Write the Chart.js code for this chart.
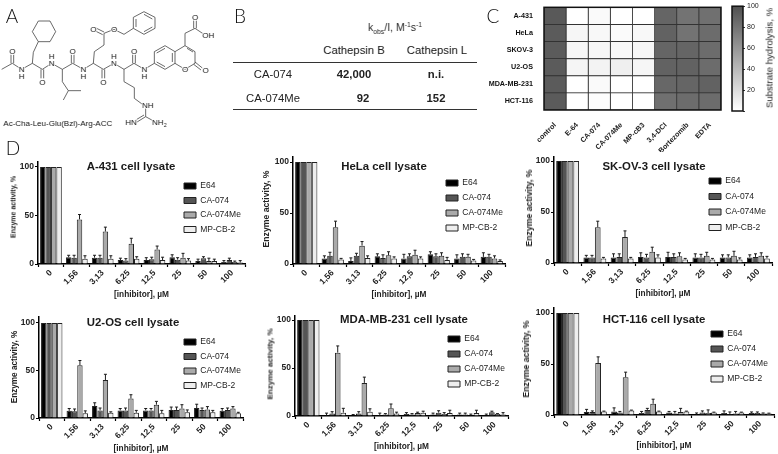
<!DOCTYPE html>
<html>
<head>
<meta charset="utf-8">
<script src="https://cdn.jsdelivr.net/npm/chart.js@4"></script>
<style>
  body { margin: 0; background: #fff; }
  #page { position: relative; width: 778px; height: 454px; overflow: hidden; font-family: "Liberation Sans", sans-serif; color: #222; background: #fff; filter: grayscale(1); }
  #page canvas { position: absolute; }
  .txt { position: absolute; white-space: nowrap; transform: translate(-50%, -50%); }
  .letter { font-family: Lato, sans-serif; font-size: 19px; font-weight: 300; color: #111; }
  .rule { position: absolute; background: #333; height: 1px; }
  sub, sup { font-size: 65%; line-height: 0; }
</style>
</head>
<body>
<div id="page">
  <svg style="position:absolute;left:0;top:0" width="240" height="150" viewBox="0 0 720 450">
    <g fill="none" stroke="#333" stroke-width="2.2">
      <polyline points="5,208 37,190 65,208 97,190 127,208 155,190 187,208 218,190 250,208 280,190 310,208 342,190 372,208 402,190 433,208 463,190"/>
      <path d="M33,190V163M41,190V163M123,208V235M131,208V235M214,190V163M222,190V163M306,208V235M314,208V235M398,190V163M406,190V163"/>
      <polyline points="97,190 100,157 115,125"/>
      <polygon points="115,63 150,63 167,95 150,125 115,125 97,95"/>
      <polyline points="187,208 187,245 205,272 190,300"/>
      <line x1="205" y1="272" x2="243" y2="272"/>
      <polyline points="280,190 283,155 312,135 312,100 342,88 372,103 400,85"/>
      <path d="M312,96L288,84M308,104L284,92"/>
      <polygon points="432,35 465,52 465,85 432,103 400,85 400,52"/>
      <path d="M432,43L457,57M457,81L432,95M408,81V57"/>
      <polyline points="372,208 372,245 403,263 403,295 430,315"/>
      <polyline points="437,325 437,350 470,368"/>
      <path d="M437,350L408,368M432,345L404,362"/>
      <polygon points="463,155 495,137 525,155 525,190 495,208 463,190"/>
      <path d="M470,159L495,145M517,159V186M495,200L470,186"/>
      <polyline points="525,155 555,137 585,155 585,190 555,208 525,190"/>
      <path d="M561,145L579,156"/>
      <path d="M585,186L607,204M581,193L603,210"/>
      <polyline points="555,137 555,100 585,85 612,103"/>
      <path d="M581,85V60M589,85V60"/>
    </g>
    <g font-family="Liberation Sans" font-size="24" fill="#222" text-anchor="middle" stroke="#fff" stroke-width="5" paint-order="stroke">
      <text x="37" y="163">O</text><text x="65" y="216">N</text><text x="65" y="236">H</text>
      <text x="127" y="254">O</text><text x="155" y="198">N</text><text x="155" y="176">H</text>
      <text x="218" y="163">O</text><text x="250" y="216">N</text><text x="250" y="236">H</text>
      <text x="280" y="97">O</text><text x="342" y="97">O</text><text x="310" y="254">O</text>
      <text x="342" y="198">N</text><text x="342" y="176">H</text><text x="402" y="163">O</text>
      <text x="433" y="216">N</text><text x="433" y="236">H</text><text x="555" y="216">O</text>
      <text x="617" y="218">O</text><text x="585" y="59">O</text><text x="625" y="113">OH</text>
      <text x="443" y="323">NH</text><text x="393" y="376">HN</text><text x="478" y="376">NH<tspan font-size="16" dy="5">2</tspan></text>
    </g>
    <text x="10" y="378" font-family="Liberation Sans" font-size="24" fill="#222">Ac-Cha-Leu-Glu(Bzl)-Arg-ACC</text>
  </svg>
</div>

<script>
const concentrations = ['0', '1,56', '3,13', '6,25', '12,5', '25', '50', '100'];
const inhibitors = ['E64', 'CA-074', 'CA-074Me', 'MP-CB-2'];

const a431E64 = [100, 7, 6.5, 4, 4, 7, 3, 2];
const a431Ca074 = [100, 6.5, 6.5, 3.5, 5, 4.5, 6, 4];
const a431Me = [100, 46, 33.5, 21, 15, 6.5, 3, 2];
const a431Mp = [100, 5.5, 5.5, 5.5, 4, 3.5, 3, 1.5];
const a431E64Err = [0, 2, 2.5, 2, 2.5, 2.5, 2, 1.5];
const a431Ca074Err = [0, 2.5, 2.5, 2, 2, 2, 1.5, 2];
const a431MeErr = [0, 5, 4.5, 5.5, 3.5, 4.5, 3, 1];
const a431MpErr = [0, 3, 3, 2, 3, 2, 2, 2];

const helaE64 = [100, 5.5, 3, 7.5, 5.5, 9.5, 5.5, 7];
const helaCa074 = [100, 8, 8, 6, 7.5, 7.5, 7, 7];
const helaMe = [100, 36, 18, 8.5, 9, 8, 7, 5.5];
const helaMp = [100, 4.5, 6, 5.5, 5.5, 4, 3.5, 3];
const helaE64Err = [0, 2.5, 3, 2.5, 4, 2.5, 3.5, 4];
const helaCa074Err = [0, 3.5, 2.5, 3, 2.5, 2.5, 3, 2.5];
const helaMeErr = [0, 6, 4, 3.5, 4.5, 3, 2.5, 2.5];
const helaMpErr = [0, 1, 2, 1.5, 1.5, 2.5, 1, 1];

const skov3E64 = [100, 5.5, 5.5, 6, 6, 5.5, 5.5, 5.5];
const skov3Ca074 = [100, 5.5, 6, 5.5, 6, 5.5, 5.5, 6];
const skov3Me = [100, 35, 25.5, 11, 6.5, 7, 7, 7];
const skov3Mp = [100, 4.5, 4.5, 5.5, 3.5, 3.5, 3.5, 4.5];
const skov3E64Err = [0, 2, 3.5, 4, 4.5, 3.5, 2.5, 2.5];
const skov3Ca074Err = [0, 2, 3, 3, 3, 3, 2.5, 3];
const skov3MeErr = [0, 6, 6, 4.5, 3.5, 3.5, 4.5, 3];
const skov3MpErr = [0, 1, 1, 2.5, 1, 1, 1.5, 2];

const u2osE64 = [100, 7.5, 12.5, 8, 8, 8.5, 10.5, 7.5];
const u2osCa074 = [100, 7, 8, 8, 8, 8.5, 8.5, 8.5];
const u2osMe = [100, 55.5, 40, 20.5, 14, 10, 9, 10];
const u2osMp = [100, 5, 5.5, 5.5, 5, 6, 6, 5];
const u2osE64Err = [0, 2.5, 3.5, 2, 2, 3, 4, 2.5];
const u2osCa074Err = [0, 2.5, 2.5, 2.5, 2, 3, 2, 2];
const u2osMeErr = [0, 5, 6, 4, 3.5, 4, 3, 2];
const u2osMpErr = [0, 2.5, 1, 2.5, 3, 2.5, 2, 1];

const mdaE64 = [100, 0.5, 1, 0.5, 2, 1.5, 1.5, 1];
const mdaCa074 = [100, 2.5, 2.5, 1.5, 1.5, 3.5, 1.5, 4];
const mdaMe = [100, 66, 34.5, 8, 3, 2, 0.5, 2];
const mdaMp = [100, 3.5, 4.5, 2.5, 3.5, 3, 3, 1.5];
const mdaE64Err = [0, 2.5, 0.5, 2.5, 1.5, 1.5, 1.5, 1];
const mdaCa074Err = [0, 2, 2, 1, 1, 2, 1.5, 1];
const mdaMeErr = [0, 7, 6, 4.5, 1, 1.5, 1.5, 0.5];
const mdaMpErr = [0, 4.5, 3, 1.5, 1.5, 3, 3, 2];

const hctE64 = [100, 3, 3.5, 2, 2.5, 0.5, 2, 2];
const hctCa074 = [100, 3, 2.5, 5, 1.5, 2.5, 1, 2];
const hctMe = [100, 51, 37, 11, 3, 2, 1.5, 1.5];
const hctMp = [100, 3.5, 4.5, 3.5, 3.5, 2.5, 2.5, 1.5];
const hctE64Err = [0, 2.5, 3.5, 1.5, 1, 1.5, 2, 1];
const hctCa074Err = [0, 1, 1, 1.5, 2, 1.5, 2, 1];
const hctMeErr = [0, 6, 5, 4.5, 3.5, 3, 2, 0.5];
const hctMpErr = [0, 0.3, 0.3, 0.3, 0.3, 0.3, 0.3, 0.3];

// panel C
const heatCells = ['A-431', 'HeLa', 'SKOV-3', 'U2-OS', 'MDA-MB-231', 'HCT-116'];
const heatDrugs = ['control', 'E-64', 'CA-074', 'CA-074Me', 'MP-cB3', '3,4-DCI', 'Bortezomib', 'EDTA'];
const heatA431 = [95, 0, 3, 0, 0, 88, 80, 82];
const heatHela = [94, 5, 4, 3, 4, 90, 80, 84];
const heatSkov3 = [94, 5, 5, 4, 5, 88, 88, 84];
const heatU2os = [94, 6, 7, 9, 5, 90, 90, 84];
const heatMda = [94, 0, 3, 0, 0, 87, 88, 90];
const heatHct = [94, 0, 1, 0, 0, 82, 84, 84];
const heatRows = [heatA431, heatHela, heatSkov3, heatU2os, heatMda, heatHct];
const scaleRange = [0, 100];

Chart.defaults.font.family = '"Liberation Sans", sans-serif';

const page = document.getElementById('page');
const barFill = ['#000000', '#555555', '#aaaaaa', '#eeeeee'];
const lineCol = '#1a1a1a';

function text(html, x, y, css) {
  const d = document.createElement('div');
  d.className = 'txt';
  d.innerHTML = html;
  d.style.left = x + 'px';
  d.style.top = y + 'px';
  if (css) d.style.cssText += css;
  page.appendChild(d);
  return d;
}
function addCanvas(left, top, width, height) {
  const c = document.createElement('canvas');
  c.width = width;
  c.height = height;
  c.style.left = left + 'px';
  c.style.top = top + 'px';
  page.appendChild(c);
  return c;
}

// error bars are not part of Chart.js, drawn on top of each bar from the bar's own element
const errorBars = {
  id: 'errorBars',
  afterDatasetsDraw(chart) {
    const ctx = chart.ctx;
    const y = chart.scales.y;
    ctx.save();
    ctx.strokeStyle = lineCol;
    ctx.lineWidth = 1;
    chart.data.datasets.forEach((ds, i) => {
      chart.getDatasetMeta(i).data.forEach((bar, k) => {
        if (!ds.errors[k]) return;
        const top = y.getPixelForValue(ds.data[k] + ds.errors[k]);
        ctx.beginPath();
        ctx.moveTo(bar.x, bar.y);
        ctx.lineTo(bar.x, top);
        ctx.moveTo(bar.x - 1.5, top);
        ctx.lineTo(bar.x + 1.5, top);
        ctx.stroke();
      });
    });
    ctx.restore();
  }
};

// the legend sits inside the plot at a given spot
const moveLegend = {
  id: 'moveLegend',
  afterLayout(chart, args, opts) {
    chart.legend.left = opts.x;
    chart.legend.top = opts.y;
  }
};

const frame = {
  id: 'frame',
  afterDatasetsDraw(chart) {
    const a = chart.chartArea;
    chart.ctx.save();
    chart.ctx.strokeStyle = '#111';
    chart.ctx.lineWidth = 1.5;
    chart.ctx.strokeRect(a.left, a.top, a.right - a.left, a.bottom - a.top);
    chart.ctx.restore();
  }
};

const panels = [
  { title: 'A-431 cell lysate', rows: [a431E64, a431Ca074, a431Me, a431Mp], errs: [a431E64Err, a431Ca074Err, a431MeErr, a431MpErr],
    left: 38, right: 245, top: 160, y100: 165, y0: 264, titleX: 131, titleY: 166, legX: 184, legY: 186, step: 14.5, yX: 13, yY: 207, yFont: 7 },
  { title: 'HeLa cell lysate', rows: [helaE64, helaCa074, helaMe, helaMp], errs: [helaE64Err, helaCa074Err, helaMeErr, helaMpErr],
    left: 293, right: 505, top: 155, y100: 160, y0: 264, titleX: 384, titleY: 166, legX: 446, legY: 183, step: 15, yX: 266, yY: 209, yFont: 8.7 },
  { title: 'SK-OV-3 cell lysate', rows: [skov3E64, skov3Ca074, skov3Me, skov3Mp], errs: [skov3E64Err, skov3Ca074Err, skov3MeErr, skov3MpErr],
    left: 554, right: 772, top: 155, y100: 159, y0: 263, titleX: 654, titleY: 166, legX: 709, legY: 181, step: 15.5, yX: 529, yY: 208, yFont: 8.7 },
  { title: 'U2-OS cell lysate', rows: [u2osE64, u2osCa074, u2osMe, u2osMp], errs: [u2osE64Err, u2osCa074Err, u2osMeErr, u2osMpErr],
    left: 39, right: 243, top: 315, y100: 321, y0: 418, titleX: 133, titleY: 322, legX: 184, legY: 342, step: 14.5, yX: 14, yY: 367, yFont: 8.2 },
  { title: 'MDA-MB-231 cell lysate', rows: [mdaE64, mdaCa074, mdaMe, mdaMp], errs: [mdaE64Err, mdaCa074Err, mdaMeErr, mdaMpErr],
    left: 295, right: 508, top: 314, y100: 318, y0: 416, titleX: 404, titleY: 319, legX: 448, legY: 339, step: 15, yX: 270, yY: 364, yFont: 8 },
  { title: 'HCT-116 cell lysate', rows: [hctE64, hctCa074, hctMe, hctMp], errs: [hctE64Err, hctCa074Err, hctMeErr, hctMpErr],
    left: 554, right: 774, top: 306, y100: 311, y0: 415, titleX: 654, titleY: 319, legX: 711, legY: 334, step: 15, yX: 526, yY: 359, yFont: 8.7 }
];

panels.forEach(p => {
  const yWidth = 30, xHeight = 36, padTop = 4, padRight = 4;
  const canvas = addCanvas(p.left - yWidth, p.top - padTop, p.right - p.left + yWidth + padRight, p.y0 - p.top + padTop + xHeight);
  const legFont = 8.5;
  const legPad = p.step - legFont;
  new Chart(canvas, {
    type: 'bar',
    data: {
      labels: concentrations,
      datasets: p.rows.map((r, i) => ({
        label: inhibitors[i],
        data: r,
        errors: p.errs[i],
        backgroundColor: barFill[i],
        borderColor: '#222',
        borderWidth: 1
      }))
    },
    options: {
      responsive: false,
      animation: false,
      layout: { padding: { top: padTop, right: padRight } },
      datasets: { bar: { barPercentage: 1, categoryPercentage: 0.84 } },
      scales: {
        x: {
          afterFit: s => { s.height = xHeight; },
          grid: { drawOnChartArea: false, tickLength: 3, tickColor: '#000', tickWidth: 1.2 },
          border: { color: '#000', width: 1.5 },
          ticks: { autoSkip: false, minRotation: 45, maxRotation: 45, padding: 1, color: '#222', font: { size: 8.5, weight: 'bold' } },
          title: { display: true, text: '[inhibitor], µM', color: '#222', padding: 0, font: { size: 8.3, weight: 'bold' } }
        },
        y: {
          min: 0,
          max: 100 * (p.y0 - p.top) / (p.y0 - p.y100),
          afterFit: s => { s.width = yWidth; },
          grid: { drawOnChartArea: false, tickLength: 3, tickColor: '#000', tickWidth: 1.2 },
          border: { color: '#000', width: 1.5 },
          ticks: { stepSize: 50, includeBounds: false, padding: 1, color: '#222', font: { size: 8.5, weight: 'bold' } }
        }
      },
      plugins: {
        tooltip: { enabled: false },
        legend: {
          position: 'chartArea',
          align: 'start',
          labels: { boxWidth: 12, boxHeight: 6, padding: legPad, color: '#222', font: { size: legFont } }
        },
        moveLegend: { x: p.legX - (p.left - yWidth) - legPad, y: p.legY - (p.top - padTop) - legFont / 2 - legPad }
      }
    },
    plugins: [errorBars, moveLegend]
  });
  text(p.title, p.titleX, p.titleY, 'font-size:11.4px;font-weight:bold;color:#1a1a1a');
  text('Enzyme activity, %', p.yX, p.yY, 'font-size:' + p.yFont + 'px;font-weight:bold;color:#222;transform:translate(-50%,-50%) rotate(-90deg)');
});

// heatmap: one stacked horizontal bar per cell line, each segment shaded by its value
function heatColor(v) {
  const g = Math.round(255 - 1.75 * v);
  return 'rgb(' + g + ',' + g + ',' + g + ')';
}
const heatCanvas = addCanvas(476, 0, 250, 152);
new Chart(heatCanvas, {
  type: 'bar',
  data: {
    labels: heatCells,
    datasets: heatDrugs.map((d, i) => ({
      label: d,
      data: heatRows.map(() => 1),
      backgroundColor: heatRows.map(r => heatColor(r[i])),
      borderColor: '#333',
      borderWidth: 0.8,
      borderSkipped: false
    }))
  },
  options: {
    indexAxis: 'y',
    responsive: false,
    animation: false,
    layout: { padding: { top: 5, right: 5 } },
    datasets: { bar: { barPercentage: 1, categoryPercentage: 1 } },
    scales: {
      x: {
        stacked: true,
        min: 0,
        max: heatDrugs.length,
        afterFit: s => { s.height = 42; },
        afterBuildTicks: s => { s.ticks = heatDrugs.map((d, i) => ({ value: i + 0.5 })); },
        afterTickToLabelConversion: s => { s.ticks.forEach((t, i) => { t.label = heatDrugs[i]; }); },
        grid: { display: false },
        border: { display: false },
        ticks: { autoSkip: false, minRotation: 45, maxRotation: 45, padding: 3, color: '#222', font: { size: 7.2, weight: 'bold' } }
      },
      y: {
        stacked: true,
        afterFit: s => { s.width = 68; },
        grid: { display: false },
        border: { display: false },
        ticks: { padding: 3, color: '#111', font: { size: 7.2, weight: 'bold' } }
      }
    },
    plugins: { legend: { display: false }, tooltip: { enabled: false } }
  },
  plugins: [frame]
});

// colour scale next to the heatmap
const barCanvas = addCanvas(726, 0, 40, 120);
new Chart(barCanvas, {
  type: 'bar',
  data: {
    labels: [''],
    datasets: [{
      data: [scaleRange],
      backgroundColor: c => {
        const a = c.chart.chartArea;
        if (!a) return '#888';
        const g = c.chart.ctx.createLinearGradient(0, a.bottom, 0, a.top);
        g.addColorStop(0, heatColor(scaleRange[0]));
        g.addColorStop(1, heatColor(scaleRange[1]));
        return g;
      }
    }]
  },
  options: {
    responsive: false,
    animation: false,
    layout: { padding: { top: 5, left: 6, bottom: 9 } },
    datasets: { bar: { barPercentage: 1, categoryPercentage: 1 } },
    scales: {
      x: { display: false },
      y: {
        position: 'right',
        min: scaleRange[0],
        max: scaleRange[1],
        afterFit: s => { s.width = 23; },
        grid: { drawOnChartArea: false, tickLength: 2, tickColor: '#333' },
        border: { display: false },
        ticks: { stepSize: 20, padding: 2, color: '#222', font: { size: 7 }, callback: v => (v === 0 ? '' : v) }
      }
    },
    plugins: { legend: { display: false }, tooltip: { enabled: false } }
  },
  plugins: [frame]
});
text('Substrate hydrolysis, %', 769, 58, 'font-size:9.6px;color:#222;transform:translate(-50%,-50%) rotate(-90deg)');

// panel B table
const tb = 'font-size:11.3px;color:#222';
const tbBold = 'font-size:11.3px;font-weight:bold;color:#222';
text('k<sub>obs</sub>/I, M<sup>-1</sup>s<sup>-1</sup>', 395, 27, 'font-size:10.5px;color:#333');
text('Cathepsin B', 354, 50, tb);
text('Cathepsin L', 437, 50, tb);
text('CA-074', 273, 74, tb);
text('42,000', 354, 74, tbBold);
text('n.i.', 436, 74, tbBold);
text('CA-074Me', 273, 98, tb);
text('92', 363, 98, tbBold);
text('152', 436, 98, tbBold);
[62, 109].forEach(y => {
  const r = document.createElement('div');
  r.className = 'rule';
  r.style.cssText = 'left:233px;width:244px;top:' + y + 'px';
  page.appendChild(r);
});

text('A', 12, 15, '').className = 'txt letter';
text('B', 240, 15, '').className = 'txt letter';
text('C', 493, 15, '').className = 'txt letter';
text('D', 13, 147, '').className = 'txt letter';
</script>
</body>
</html>
